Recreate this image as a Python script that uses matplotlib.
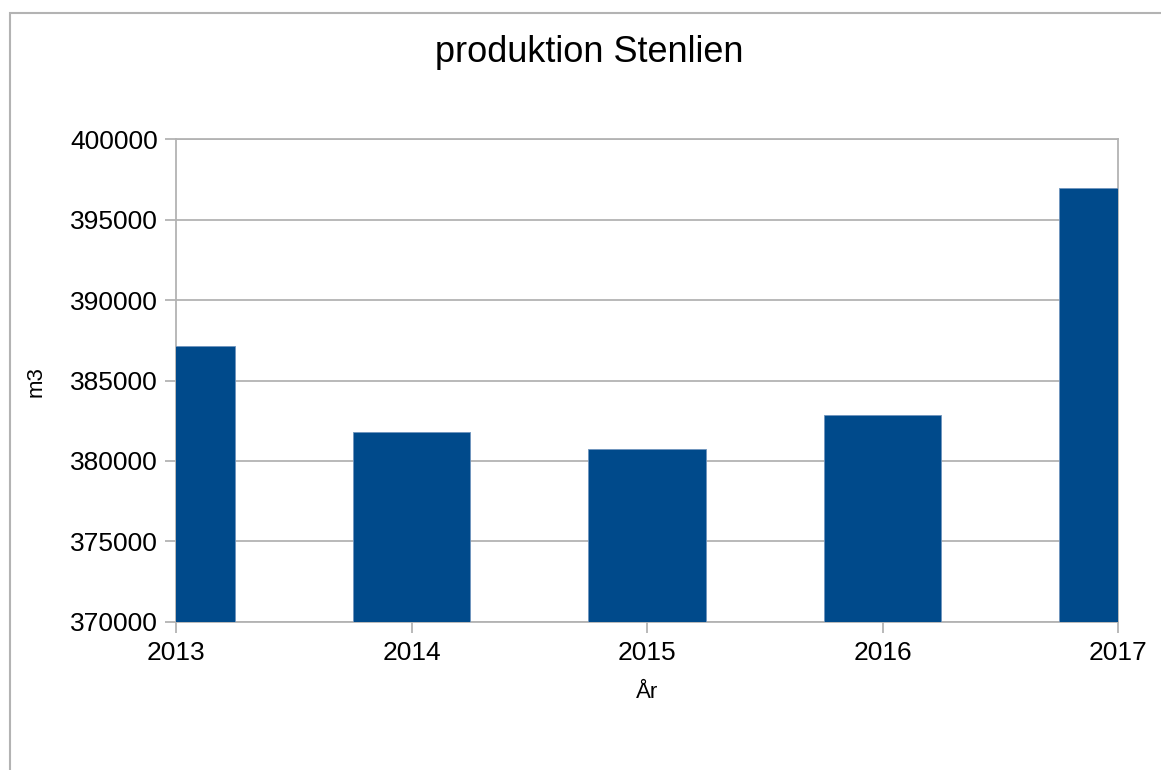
import matplotlib.pyplot as plt
from matplotlib.patches import Rectangle

plt.rcParams['font.family'] = ['Liberation Sans', 'DejaVu Sans']

years = [2013, 2014, 2015, 2016, 2017]
production = [387150, 381810, 380730, 382850, 396950]
title = "produktion Stenlien"
xlabel = "År"
ylabel = "m3"

bar_color = "#004a8b"
grid_color = "#b3b3b3"

fig = plt.figure(figsize=(11.61, 7.70), dpi=100)

# outer chart border (only top and left show in the reference)
fig.patches.append(Rectangle((10 / 1161, -0.1), 1.2, 1 - 13 / 770 + 0.1,
                             transform=fig.transFigure, fill=False,
                             edgecolor=grid_color, linewidth=1.5))

ax = fig.add_axes([176 / 1161, 1 - 621.7 / 770, (1118 - 176) / 1161, (621.7 - 139.3) / 770])

ax.bar(years, production, width=0.5, color=bar_color, edgecolor="#6f94bd",
       linewidth=0.6, zorder=3)

ax.set_xlim(2013, 2017)
ax.set_ylim(370000, 400000)
ax.set_xticks(years)
ax.set_yticks(range(370000, 400001, 5000))
ax.yaxis.grid(True, color=grid_color, linewidth=1.3, zorder=0)
ax.set_axisbelow(True)

for s in ax.spines.values():
    s.set_color(grid_color)
    s.set_linewidth(1.3)

ax.tick_params(axis='both', colors=grid_color, length=8, width=1.3,
               labelsize=19, labelcolor='black', direction='out')
ax.tick_params(axis='x', pad=6)
ax.tick_params(axis='y', pad=5)

ax.set_xlabel(xlabel, fontsize=16, labelpad=12)
fig.text(36 / 1161, 1 - 382 / 770, ylabel, rotation=90, fontsize=16,
         ha='center', va='center')

fig.text(589 / 1161, 1 - 52 / 770, title, fontsize=26, ha='center', va='center')

fig.savefig("out.png", dpi=100)
